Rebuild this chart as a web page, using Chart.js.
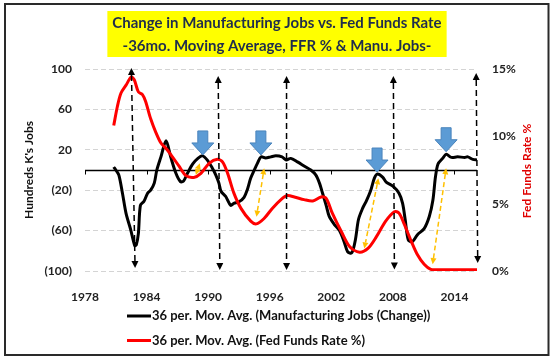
<!DOCTYPE html>
<html><head><meta charset="utf-8">
<script src="https://cdn.jsdelivr.net/npm/chart.js@4.4.1/dist/chart.umd.min.js"></script>
<style>html,body{margin:0;padding:0;background:#fff;}#wrap{width:554px;height:359px;}</style>
</head><body><div id="wrap"><canvas id="c" width="554" height="359"></canvas></div>
<script>
const titleLines = ["Change in Manufacturing Jobs vs. Fed Funds Rate", "-36mo. Moving Average, FFR % & Manu. Jobs-"];
const leftAxisTitle = "Hundreds K's Jobs";
const rightAxisTitle = "Fed Funds Rate %";
const seriesLabels = ["36 per. Mov. Avg. (Manufacturing Jobs (Change))", "36 per. Mov. Avg. (Fed Funds Rate %)"];
const xTickYears = [1978, 1984, 1990, 1996, 2002, 2008, 2014];
const leftTicks = [-100, -60, -20, 20, 60, 100];
const rightTicks = [0, 5, 10, 15];

const jobsYears = [1980.8,1981.0,1981.3,1981.65,1982.0,1982.45,1982.85,1983.0,1983.2,1983.4,1983.75,1984.1,1984.4,1984.75,1985.0,1985.4,1985.9,1986.35,1986.85,1987.3,1987.6,1988.0,1988.5,1989.0,1989.45,1989.9,1990.4,1990.75,1991.05,1991.25,1991.7,1992.2,1992.5,1993.0,1993.5,1993.8,1994.15,1994.5,1994.8,1995.15,1995.6,1996.1,1996.6,1997.2,1997.6,1998.05,1998.7,1999.35,2000.0,2000.5,2000.85,2001.15,2001.5,2001.8,2002.3,2002.8,2003.25,2003.6,2004.0,2004.35,2004.65,2005.05,2005.4,2005.85,2006.2,2006.5,2007.0,2007.35,2008.0,2008.6,2008.95,2009.2,2009.5,2009.9,2010.4,2011.05,2011.55,2011.9,2012.15,2012.4,2012.85,2013.2,2013.7,2014.3,2015.0,2015.3,2015.8,2016.2];
const jobsValues = [3,0,-5,-23,-43,-59,-75,-74,-63,-35,-31,-23,-20,-13,0,13,29,13,-3,-11.5,-11,-3,6,11.5,14,10,2,-5,-13,-21,-26,-35,-33,-31.5,-27,-20,-8,0,6.5,13,12,13,14,13,10,11.5,8,4,0,-5,-13,-23,-35,-46,-54,-60,-71,-81,-82,-69,-49,-38,-31,-20,-8,-4,-7,-12,-16,-23,-33,-49,-69,-71,-64,-58,-46,-30,-7,6,11.5,15.5,12.5,13,12.5,13,10.5,10];

const ffrYears = [1980.8,1981.15,1981.5,1982.0,1982.5,1982.8,1983.2,1983.6,1983.9,1984.4,1984.9,1985.4,1985.9,1986.5,1987.15,1987.8,1988.6,1989.3,1990.1,1990.9,1991.4,1991.9,1992.5,1993.2,1994.15,1994.7,1995.45,1996.25,1997.1,1997.7,1998.4,1999.35,2000.2,2001.0,2001.5,2002.1,2003.0,2003.8,2004.75,2005.6,2006.4,2007.3,2008.15,2008.6,2009.1,2009.8,2010.4,2011.05,2011.7,2012.5,2014.0,2016.2];
const ffrValues = [10.8,12.2,13.2,13.8,14.4,14.2,13.3,13.1,12.6,11.3,10.3,9.5,9.1,8.5,7.8,7.1,6.95,7.25,8.0,8.3,8.1,7.25,5.8,4.65,3.7,3.5,3.9,4.65,5.3,5.6,5.5,5.3,5.2,5.5,5.4,4.3,2.9,1.8,1.4,1.7,2.55,3.7,4.4,4.3,3.5,2.2,1.2,0.5,0.12,0.1,0.1,0.1];

// annotation anchors in data units (year, left-axis value)
const dashedArrows = [[1982.52,101,1982.88,-97],[1990.98,93,1991.14,-99],[1997.64,93,1997.64,-99],[2008.05,93,2008.15,-98.5],[2016.12,96,2016.27,-92]];
const orangeArrows = [[1989.19,6.6,1988.8,-5],[1995.46,1.7,1994.71,-46.3],[2006.59,-8.2,2005.22,-77.6],[2013.19,1.7,2011.88,-93.2]];
const blueArrows = [[1989.48,14.9],[1995.14,14.9],[2006.46,-2],[2013.19,18.1]];

const FAM = "Lato, 'Liberation Sans', sans-serif";

function arrowHead(ctx, x, y, ang, len, hw, color){
  ctx.save(); ctx.setLineDash([]); ctx.fillStyle = color;
  ctx.beginPath();
  ctx.moveTo(x, y);
  ctx.lineTo(x - len*Math.cos(ang) + hw*Math.sin(ang), y - len*Math.sin(ang) - hw*Math.cos(ang));
  ctx.lineTo(x - len*Math.cos(ang) - hw*Math.sin(ang), y - len*Math.sin(ang) + hw*Math.cos(ang));
  ctx.closePath(); ctx.fill(); ctx.restore();
}
function dblArrow(ctx, x1,y1,x2,y2,color,width,dash,len,hw){
  const ang = Math.atan2(y2-y1, x2-x1);
  ctx.save();
  ctx.strokeStyle = color; ctx.lineWidth = width; ctx.setLineDash(dash);
  ctx.beginPath();
  ctx.moveTo(x1 + len*Math.cos(ang), y1 + len*Math.sin(ang));
  ctx.lineTo(x2 - len*Math.cos(ang), y2 - len*Math.sin(ang));
  ctx.stroke(); ctx.restore();
  arrowHead(ctx, x2, y2, ang, len, hw, color);
  arrowHead(ctx, x1, y1, ang+Math.PI, len, hw, color);
}

const decor = {
  id: 'decor',
  beforeDraw(chart){
    const ctx = chart.ctx;
    ctx.save();
    ctx.fillStyle = '#fff'; ctx.fillRect(0,0,chart.width,chart.height);
    ctx.strokeStyle = '#2a2a2a'; ctx.lineWidth = 2;
    ctx.strokeRect(5, 4, 543.5, 351);
    ctx.restore();
  },
  beforeDatasetsDraw(chart){
    const ctx = chart.ctx, xs = chart.scales.x, ys = chart.scales.y, a = chart.chartArea;
    const y0 = Math.round(ys.getPixelForValue(0)) + 0.5;
    ctx.save();
    ctx.strokeStyle = '#000'; ctx.lineWidth = 1.5;
    ctx.beginPath(); ctx.moveTo(a.left, y0); ctx.lineTo(a.right, y0); ctx.stroke();
    ctx.lineWidth = 1;
    xTickYears.forEach(v => {
      const x = Math.round(xs.getPixelForValue(v)) + 0.5;
      ctx.beginPath(); ctx.moveTo(x, y0); ctx.lineTo(x, y0 + 4); ctx.stroke();
    });
    ctx.restore();
  },
  afterDatasetsDraw(chart){
    const ctx = chart.ctx, xs = chart.scales.x, ys = chart.scales.y;
    const px = v => xs.getPixelForValue(v), py = v => ys.getPixelForValue(v);
    dashedArrows.forEach(d => dblArrow(ctx, px(d[0]), py(d[1]), px(d[2]), py(d[3]), '#000', 1.5, [6,4], 7, 3.5));
    orangeArrows.forEach(d => dblArrow(ctx, px(d[0]), py(d[1]), px(d[2]), py(d[3]), '#FFC000', 1.5, [5,3], 6, 3));
    blueArrows.forEach(d => {
      const tx = px(d[0]), ty = py(d[1]);
      ctx.save();
      ctx.fillStyle = '#5B9BD5'; ctx.strokeStyle = '#4A84BC'; ctx.lineWidth = 1;
      ctx.beginPath();
      ctx.moveTo(tx, ty); ctx.lineTo(tx-11, ty-12); ctx.lineTo(tx-5, ty-12); ctx.lineTo(tx-5, ty-24);
      ctx.lineTo(tx+5, ty-24); ctx.lineTo(tx+5, ty-12); ctx.lineTo(tx+11, ty-12); ctx.closePath();
      ctx.fill(); ctx.stroke(); ctx.restore();
    });
  },
  afterDraw(chart){
    const ctx = chart.ctx;
    ctx.save();
    // title
    ctx.font = "bold 15px " + FAM;
    const w = Math.max(...titleLines.map(t => ctx.measureText(t).width));
    const cx = 277;
    ctx.fillStyle = '#FFFF00';
    ctx.fillRect(cx - w/2 - 5, 11, w + 10, 46);
    ctx.fillStyle = '#1F2D4D'; ctx.textAlign = 'center'; ctx.textBaseline = 'middle';
    ctx.fillText(titleLines[0], cx, 23.5);
    ctx.fillText(titleLines[1], cx, 46);
    // axis titles
    ctx.font = "bold 12px " + FAM;
    ctx.save(); ctx.translate(29, 170); ctx.rotate(-Math.PI/2);
    ctx.fillStyle = '#111'; ctx.fillText(leftAxisTitle, 0, 0); ctx.restore();
    ctx.save(); ctx.translate(527, 171); ctx.rotate(-Math.PI/2);
    ctx.fillStyle = '#E00000'; ctx.fillText(rightAxisTitle, 0, 0); ctx.restore();
    // legend
    ctx.font = "bold 13px " + FAM; ctx.textAlign = 'left';
    const rows = [316, 340.5];
    chart.data.datasets.forEach((ds, i) => {
      const y = rows[i];
      ctx.strokeStyle = ds.borderColor; ctx.lineWidth = 3;
      ctx.beginPath(); ctx.moveTo(127, y); ctx.lineTo(151, y); ctx.stroke();
      ctx.fillStyle = '#111'; ctx.fillText(ds.label, 152, y);
    });
    ctx.restore();
  }
};

const tickFont = {family: FAM, size: 12, weight: 'bold'};
new Chart(document.getElementById('c'), {
  type: 'line',
  data: {
    datasets: [
      {label: seriesLabels[0], data: jobsYears.map((x,i)=>({x, y: jobsValues[i]})), yAxisID: 'y', borderColor: '#000000', borderWidth: 3, pointRadius: 0, tension: 0.3, order: 1},
      {label: seriesLabels[1], data: ffrYears.map((x,i)=>({x, y: ffrValues[i]})), yAxisID: 'y2', borderColor: '#FF0000', borderWidth: 3, pointRadius: 0, tension: 0.3, order: 0}
    ]
  },
  options: {
    responsive: false, animation: false, devicePixelRatio: 1,
    layout: {padding: {top: 69, left: 0, right: 0, bottom: 0}},
    plugins: {legend: {display: false}, tooltip: {enabled: false}, title: {display: false}},
    scales: {
      x: {type: 'linear', min: 1978, max: 2016.2,
          grid: {display: false}, border: {display: false},
          afterBuildTicks: s => { s.ticks = xTickYears.map(v => ({value: v})); },
          afterFit: s => { s.height = 88; },
          ticks: {padding: 11, font: tickFont, color: '#222', maxRotation: 0, autoSkip: false, callback: v => String(v)}},
      y: {position: 'left', min: -100, max: 100,
          grid: {color: '#D4D4D4', lineWidth: 1, drawTicks: false}, border: {display: false, dash: [5,3]},
          afterBuildTicks: s => { s.ticks = leftTicks.map(v => ({value: v})); },
          afterFit: s => { s.width = 85; },
          ticks: {padding: 13, font: tickFont, color: '#222', callback: v => v < 0 ? '(' + (-v) + ')' : String(v)}},
      y2: {position: 'right', min: 0, max: 15,
          grid: {display: false, drawTicks: false}, border: {display: false},
          afterBuildTicks: s => { s.ticks = rightTicks.map(v => ({value: v})); },
          afterFit: s => { s.width = 77; },
          ticks: {padding: 15, font: tickFont, color: '#222', callback: v => v + '%'}}
    }
  },
  plugins: [decor]
});
</script></body></html>
